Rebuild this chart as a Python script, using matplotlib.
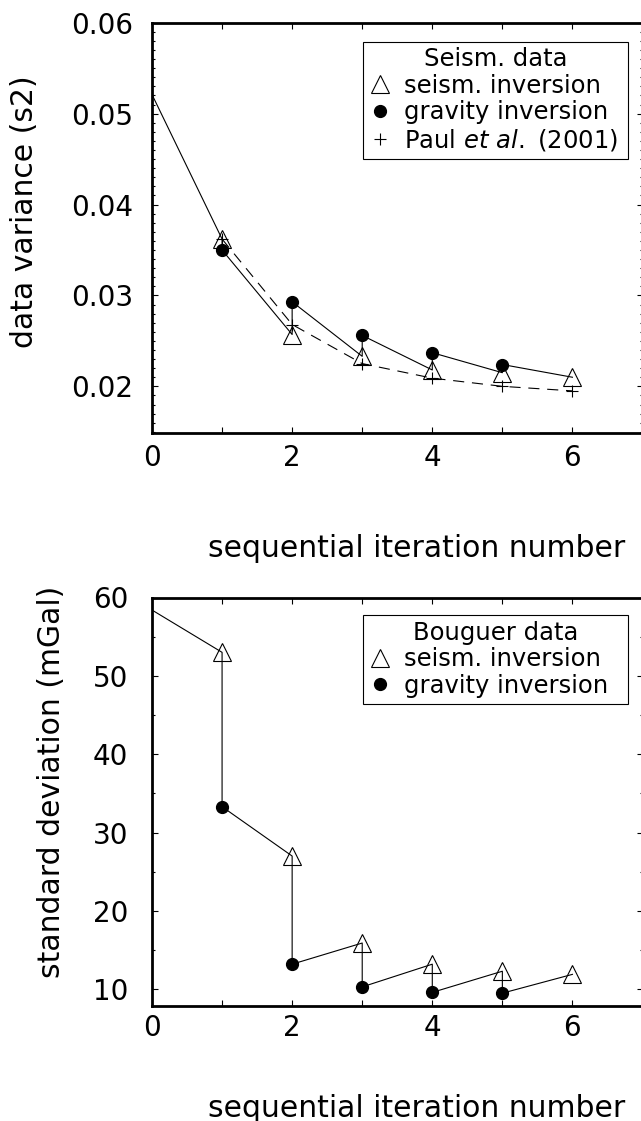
import matplotlib
matplotlib.use("Agg")
import matplotlib.pyplot as plt
from matplotlib.lines import Line2D
from matplotlib.ticker import MultipleLocator, FuncFormatter

plt.rcParams['font.family'] = ['DejaVu Sans']
plt.rcParams['mathtext.fontset'] = 'dejavusans'

# iteration numbers
iters = [1, 2, 3, 4, 5, 6]

# top panel: seismic data variance (s2)
var_start = 0.0521
var_seism = [0.0362, 0.0257, 0.0233, 0.0218, 0.0215, 0.0210]
var_grav = [0.0350, 0.0293, 0.0256, 0.0237, 0.0224]
var_paul = [0.0362, 0.0268, 0.0225, 0.0209, 0.0200, 0.0195]

# bottom panel: Bouguer data standard deviation (mGal)
sd_start = 58.4
sd_seism = [53.0, 27.0, 15.9, 13.2, 12.3, 11.9]
sd_grav = [33.3, 13.2, 10.3, 9.6, 9.5]

TRI = dict(marker='^', ls='none', mfc='none', mec='k', ms=13.5, mew=0.8)
DOT = dict(marker='o', ls='none', mfc='k', mec='k', ms=8.5)
PLUS = dict(marker='+', ls='none', mec='k', ms=9, mew=0.8)


def zigzag(start, seism, grav):
    # sequential path: seism. inversion then gravity inversion at each step
    xs, ys = [0], [start]
    for i, it in enumerate(iters):
        xs.append(it); ys.append(seism[i])
        if i < len(grav):
            xs.append(it); ys.append(grav[i])
    return xs, ys


def style(ax, xpad, ypad):
    ax.set_xlim(0, 7)
    ax.xaxis.set_major_locator(MultipleLocator(1))
    ax.xaxis.set_major_formatter(FuncFormatter(
        lambda v, p: f'{v:.0f}' if round(v) % 2 == 0 and v < 6.5 else ''))
    ax.tick_params(which='both', direction='in', top=True, right=True,
                   width=0.8, labelsize=20)
    ax.tick_params(which='major', length=4.5)
    ax.tick_params(which='minor', length=2.5)
    ax.tick_params(axis='x', pad=xpad)
    ax.tick_params(axis='y', pad=ypad)
    for s in ax.spines.values():
        s.set_linewidth(2.0)


def add_legend(ax, handles, labels, title, ytop):
    leg = ax.legend(handles, labels, title=title, loc='upper left',
                    bbox_to_anchor=(0.4296, ytop, 0.5415, 0), mode='expand',
                    borderaxespad=0, fontsize=17.5, title_fontsize=17.5,
                    labelspacing=0.11, handlelength=1.0, handletextpad=0.45,
                    borderpad=0.23, fancybox=False, framealpha=1, edgecolor='k')
    leg.get_frame().set_linewidth(0.8)
    return leg


fig = plt.figure(figsize=(6.41, 11.21), dpi=100)
W, H = 641, 1121
ax1 = fig.add_axes([152 / W, 1 - 432.7 / H, 490.5 / W, 410 / H])
ax2 = fig.add_axes([152 / W, 1 - 1005.7 / H, 490.5 / W, 408.2 / H])

# ---- top panel
xs, ys = zigzag(var_start, var_seism, var_grav)
ax1.plot(xs, ys, color='k', lw=0.8)
ax1.plot(iters, var_paul, color='k', lw=0.8, ls=(0, (10, 7)))
ax1.plot(iters, var_seism, **TRI)
ax1.plot(iters[:len(var_grav)], var_grav, **DOT)
ax1.plot(iters, var_paul, **PLUS)
style(ax1, 8, 13.5)
ax1.set_ylim(0.0149, 0.06)
ax1.yaxis.set_major_locator(MultipleLocator(0.01))
ax1.yaxis.set_minor_locator(MultipleLocator(0.001))
ax1.yaxis.set_major_formatter(FuncFormatter(lambda v, p: f'{v:.2f}'))
ax1.set_ylabel('data variance (s2)', fontsize=21.5, va='center')
ax1.yaxis.set_label_coords(-0.259, 0.538)
ax1.set_xlabel('sequential iteration number', fontsize=21.5, va='baseline')
ax1.xaxis.set_label_coords(0.540, -0.303)

add_legend(ax1, [Line2D([], [], **TRI), Line2D([], [], **DOT),
                 Line2D([], [], **PLUS)],
           ['seism. inversion', 'gravity inversion',
            r'Paul $\it{et\ al.}$ (2001)'],
           'Seism. data', 0.954)

# ---- bottom panel
xs, ys = zigzag(sd_start, sd_seism, sd_grav)
ax2.plot(xs, ys, color='k', lw=0.8)
ax2.plot(iters, sd_seism, **TRI)
ax2.plot(iters[:len(sd_grav)], sd_grav, **DOT)
style(ax2, 6, 17)
ax2.set_ylim(7.9, 60)
ax2.yaxis.set_major_locator(MultipleLocator(10))
ax2.yaxis.set_minor_locator(MultipleLocator(5))
ax2.set_ylabel('standard deviation (mGal)', fontsize=21.5, va='center')
ax2.yaxis.set_label_coords(-0.204, 0.548)
ax2.set_xlabel('sequential iteration number', fontsize=21.5, va='baseline')
ax2.xaxis.set_label_coords(0.540, -0.273)

add_legend(ax2, [Line2D([], [], **TRI), Line2D([], [], **DOT)],
           ['seism. inversion', 'gravity inversion'],
           'Bouguer data', 0.957)

fig.savefig('out.png', dpi=100)
